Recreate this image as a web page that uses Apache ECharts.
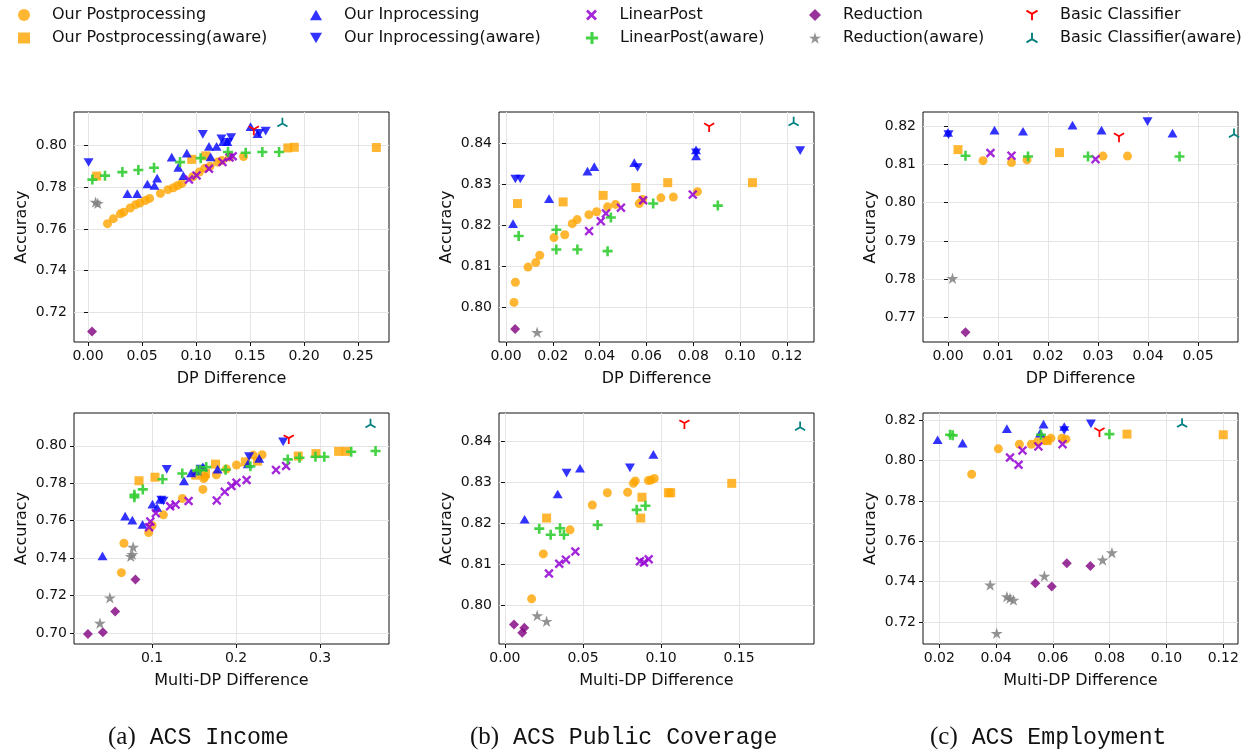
<!DOCTYPE html>
<html>
<head>
<meta charset="utf-8">
<script src="https://cdn.jsdelivr.net/npm/echarts@6/dist/echarts.min.js"></script>
<style>
html,body{margin:0;padding:0;background:#fff;}
#chart{width:1250px;height:755px;}
</style>
</head>
<body>
<div id="chart"></div>
<script>
// ---------- legend / series names ----------
const methodNames = ['Our Postprocessing','Our Postprocessing(aware)','Our Inprocessing','Our Inprocessing(aware)',
  'LinearPost','LinearPost(aware)','Reduction','Reduction(aware)','Basic Classifier','Basic Classifier(aware)'];

// ---------- (a) ACS Income, DP Difference ----------
const incDP_post = [[0.018,0.7625],[0.0235,0.7649],[0.030,0.7672],[0.033,0.768],[0.039,0.770],[0.044,0.7716],[0.048,0.7724],[0.053,0.7736],[0.057,0.7746],[0.067,0.777],[0.074,0.7788],[0.079,0.7797],[0.083,0.7808],[0.087,0.7818],[0.097,0.785],[0.103,0.7872],[0.108,0.789],[0.113,0.790],[0.120,0.792],[0.124,0.7928],[0.131,0.7944],[0.144,0.7947]];
const incDP_postAware = [[0.008,0.7853],[0.096,0.7933],[0.109,0.7950],[0.185,0.7988],[0.191,0.7991],[0.267,0.7990]];
const incDP_in = [[0.0365,0.7769],[0.0455,0.7769],[0.055,0.7815],[0.0615,0.7808],[0.064,0.7843],[0.0775,0.7944],[0.0836,0.7895],[0.0883,0.7855],[0.0915,0.7963],[0.112,0.7995],[0.1135,0.7945],[0.119,0.7995],[0.125,0.8018],[0.129,0.8018],[0.1505,0.8090],[0.157,0.8056]];
const incDP_inAware = [[0.0005,0.7918],[0.1063,0.8053],[0.1235,0.8032],[0.1325,0.8038],[0.130,0.8015],[0.1645,0.8068],[0.1585,0.8058]];
const incDP_lin = [[0.0935,0.7836],[0.1005,0.7856],[0.112,0.7888],[0.1245,0.792],[0.131,0.7942],[0.134,0.7948]];
const incDP_linAware = [[0.004,0.7836],[0.0157,0.7855],[0.0318,0.7872],[0.0466,0.7882],[0.0611,0.7893],[0.0852,0.7920],[0.1043,0.7939],[0.1296,0.7968],[0.146,0.7965],[0.1614,0.7968],[0.1769,0.7968]];
const incDP_red = [[0.0037,0.7108]];
const incDP_redAware = [[0.007,0.7728],[0.009,0.7722]];
const incDP_basic = [[0.1535,0.8072]];
const incDP_basicAware = [[0.180,0.8110]];

// ---------- (a) ACS Income, Multi-DP Difference ----------
const incMDP_post = [[0.0635,0.7322],[0.0665,0.7479],[0.096,0.7536],[0.100,0.7574],[0.1135,0.7631],[0.136,0.7718],[0.1605,0.7767],[0.1615,0.7825],[0.163,0.7835],[0.1765,0.7845],[0.1885,0.7876],[0.2005,0.7897],[0.2205,0.7950],[0.231,0.7952]];
const incMDP_postAware = [[0.0845,0.7813],[0.1035,0.7832],[0.152,0.7843],[0.1635,0.7852],[0.1755,0.7902],[0.211,0.7914],[0.2255,0.7918],[0.274,0.7945],[0.295,0.7958],[0.322,0.7970],[0.331,0.7970]];
const incMDP_in = [[0.041,0.7412],[0.068,0.7624],[0.0765,0.7603],[0.0887,0.758],[0.1005,0.7688],[0.106,0.767],[0.1095,0.7713],[0.138,0.7812],[0.1465,0.7855],[0.1535,0.7865],[0.1605,0.7888],[0.178,0.7875],[0.214,0.7903],[0.2275,0.7933]];
const incMDP_inAware = [[0.1175,0.7874],[0.111,0.771],[0.1135,0.7705],[0.158,0.7875],[0.2155,0.7942],[0.256,0.8021]];
const incMDP_lin = [[0.0965,0.7565],[0.098,0.7595],[0.1045,0.7640],[0.1215,0.7677],[0.128,0.7686],[0.1435,0.7705],[0.177,0.7708],[0.1865,0.7754],[0.1945,0.7785],[0.2005,0.7803],[0.2125,0.7817],[0.2475,0.7871],[0.2595,0.7892]];
const incMDP_linAware = [[0.079,0.7738],[0.079,0.7725],[0.089,0.7767],[0.1125,0.7821],[0.136,0.7852],[0.1535,0.7868],[0.157,0.787],[0.1645,0.7886],[0.1875,0.7872],[0.217,0.789],[0.2615,0.7927],[0.2755,0.7936],[0.2945,0.7941],[0.305,0.7941],[0.337,0.7968],[0.366,0.7972]];
const incMDP_red = [[0.0237,0.6995],[0.0415,0.7004],[0.0561,0.7114],[0.0802,0.7286]];
const incMDP_redAware = [[0.038,0.7052],[0.0498,0.7188],[0.0747,0.7409],[0.0775,0.7459],[0.0765,0.742]];
const incMDP_basic = [[0.2627,0.8035]];
const incMDP_basicAware = [[0.360,0.8119]];

// ---------- (b) ACS Public Coverage, DP Difference ----------
const pubDP_post = [[0.0034,0.8012],[0.004,0.8061],[0.0094,0.8098],[0.0127,0.8109],[0.0144,0.8127],[0.0205,0.8170],[0.0251,0.8177],[0.0283,0.8204],[0.0304,0.8214],[0.0354,0.8226],[0.0387,0.8233],[0.0434,0.8245],[0.0468,0.8251],[0.0569,0.8253],[0.0584,0.8263],[0.0662,0.8267],[0.0715,0.8269],[0.0818,0.8282]];
const pubDP_postAware = [[0.0049,0.8253],[0.0244,0.8257],[0.0415,0.8273],[0.0555,0.8292],[0.0691,0.8304],[0.1053,0.8304]];
const pubDP_in = [[0.003,0.8204],[0.0184,0.8265],[0.0348,0.8332],[0.0377,0.8343],[0.0548,0.8353],[0.0812,0.8384],[0.0812,0.8369]];
const pubDP_inAware = [[0.004,0.8313],[0.0061,0.8313],[0.0562,0.8341],[0.0812,0.8377],[0.1257,0.8382]];
const pubDP_lin = [[0.0355,0.8186],[0.0405,0.821],[0.0427,0.8229],[0.0491,0.8243],[0.0586,0.8261],[0.0798,0.8275]];
const pubDP_linAware = [[0.0054,0.8174],[0.0215,0.8189],[0.0215,0.8141],[0.0305,0.8141],[0.0434,0.8137],[0.0448,0.8219],[0.0629,0.8253],[0.0905,0.8248]];
const pubDP_red = [[0.0039,0.7947]];
const pubDP_redAware = [[0.0133,0.7939]];
const pubDP_basic = [[0.0868,0.8439]];
const pubDP_basicAware = [[0.1229,0.8453]];

// ---------- (b) ACS Public Coverage, Multi-DP Difference ----------
const pubMDP_post = [[0.0171,0.8015],[0.0246,0.8125],[0.0417,0.8184],[0.056,0.8245],[0.0656,0.8275],[0.0786,0.8276],[0.0823,0.8298],[0.0835,0.8304],[0.0919,0.8305],[0.0936,0.8306],[0.0957,0.8310]];
const pubMDP_postAware = [[0.0267,0.8213],[0.0878,0.8264],[0.087,0.8213],[0.1047,0.8275],[0.1062,0.8275],[0.1453,0.8298]];
const pubMDP_in = [[0.0126,0.821],[0.0338,0.8272],[0.0481,0.8335],[0.0951,0.8369]];
const pubMDP_inAware = [[0.0395,0.8323],[0.0801,0.8336]];
const pubMDP_lin = [[0.0282,0.8077],[0.0348,0.8101],[0.0391,0.8111],[0.0451,0.8131],[0.0865,0.8107],[0.0891,0.8104],[0.0921,0.8112]];
const pubMDP_linAware = [[0.022,0.8187],[0.0293,0.8172],[0.0353,0.8188],[0.0378,0.8172],[0.0594,0.8196],[0.0844,0.8233],[0.09,0.8243]];
const pubMDP_red = [[0.0058,0.7952],[0.0124,0.7944],[0.0111,0.7932]];
const pubMDP_redAware = [[0.0207,0.7974],[0.0267,0.796]];
const pubMDP_basic = [[0.115,0.8443]];
const pubMDP_basicAware = [[0.1891,0.8438]];

// ---------- (c) ACS Employment, DP Difference ----------
const empDP_post = [[0.007,0.811],[0.0127,0.8105],[0.0158,0.8112],[0.031,0.8122],[0.0359,0.8122]];
const empDP_postAware = [[0.002,0.8139],[0.0223,0.8131]];
const empDP_in = [[0.0,0.8184],[0.0093,0.819],[0.015,0.8187],[0.0249,0.8203],[0.0307,0.819],[0.0449,0.8182]];
const empDP_inAware = [[0.0001,0.8178],[0.0399,0.8212]];
const empDP_lin = [[0.0085,0.813],[0.0127,0.8123],[0.0295,0.8114]];
const empDP_linAware = [[0.0035,0.8123],[0.016,0.8121],[0.028,0.8121],[0.0463,0.8121]];
const empDP_red = [[0.0035,0.7661]];
const empDP_redAware = [[0.0009,0.7802]];
const empDP_basic = [[0.0342,0.8171]];
const empDP_basicAware = [[0.0572,0.8182]];

// ---------- (c) ACS Employment, Multi-DP Difference ----------
const empMDP_post = [[0.0314,0.7933],[0.0408,0.8059],[0.0482,0.8082],[0.0524,0.8082],[0.0546,0.8094],[0.0576,0.8101],[0.0593,0.8112],[0.0632,0.8112],[0.0646,0.8107]];
const empMDP_postAware = [[0.058,0.8100],[0.0861,0.8132],[0.12,0.8129]];
const empMDP_in = [[0.0194,0.8104],[0.0282,0.8087],[0.0438,0.8159],[0.0567,0.8182],[0.064,0.817],[0.0555,0.8137]];
const empMDP_inAware = [[0.0734,0.8183],[0.064,0.815]];
const empMDP_lin = [[0.0449,0.8016],[0.0479,0.798],[0.0493,0.8051],[0.0549,0.8071],[0.0634,0.8082]];
const empMDP_linAware = [[0.0238,0.8129],[0.0247,0.8126],[0.0558,0.8129],[0.0799,0.8132]];
const empMDP_red = [[0.0538,0.7392],[0.0596,0.7376],[0.0649,0.7491],[0.0732,0.7478]];
const empMDP_redAware = [[0.0379,0.7384],[0.0402,0.7144],[0.0438,0.7326],[0.0449,0.7318],[0.0461,0.7309],[0.057,0.7428],[0.0775,0.7508],[0.0808,0.7544]];
const empMDP_basic = [[0.0764,0.8142]];
const empMDP_basicAware = [[0.1055,0.8187]];

// ---------- tick values ----------
const incDP_xticks = [0, 0.05, 0.10, 0.15, 0.20, 0.25];
const incDP_yticks = [0.72, 0.74, 0.76, 0.78, 0.80];
const incMDP_xticks = [0.1, 0.2, 0.3];
const incMDP_yticks = [0.70, 0.72, 0.74, 0.76, 0.78, 0.80];
const pubDP_xticks = [0, 0.02, 0.04, 0.06, 0.08, 0.10, 0.12];
const pubDP_yticks = [0.80, 0.81, 0.82, 0.83, 0.84];
const pubMDP_xticks = [0, 0.05, 0.10, 0.15];
const pubMDP_yticks = [0.80, 0.81, 0.82, 0.83, 0.84];
const empDP_xticks = [0, 0.01, 0.02, 0.03, 0.04, 0.05];
const empDP_yticks = [0.77, 0.78, 0.79, 0.80, 0.81, 0.82];
const empMDP_xticks = [0.02, 0.04, 0.06, 0.08, 0.10, 0.12];
const empMDP_yticks = [0.72, 0.74, 0.76, 0.78, 0.80, 0.82];

const captionLetters = ['(a)', '(b)', '(c)'];
const captionNames = ['ACS Income', 'ACS Public Coverage', 'ACS Employment'];

// ---------- styles ----------
const SYM = [
  'circle',
  'rect',
  'path://M10,0 L20,17.32 L0,17.32 Z',
  'path://M0,0 L20,0 L10,17.32 Z',
  'path://M0,3.5 L3.5,0 L10,6.5 L16.5,0 L20,3.5 L13.5,10 L20,16.5 L16.5,20 L10,13.5 L3.5,20 L0,16.5 L6.5,10 Z',
  'path://M7.4,0 L12.6,0 L12.6,7.4 L20,7.4 L20,12.6 L12.6,12.6 L12.6,20 L7.4,20 L7.4,12.6 L0,12.6 L0,7.4 L7.4,7.4 Z',
  'path://M10,0 L20,10 L10,20 L0,10 Z',
  'path://M10,0 L12.245,6.91 L19.511,6.91 L13.633,11.18 L15.878,18.09 L10,13.82 L4.122,18.09 L6.367,11.18 L0.489,6.91 L7.755,6.91 Z',
  'path://M8.5,10 L11.5,10 L11.5,20 L8.5,20 Z M9.25,11.299 L0.59,6.299 L2.09,3.701 L10.75,8.701 Z M9.25,8.701 L17.91,3.701 L19.41,6.299 L10.75,11.299 Z',
  'path://M8.5,0 L11.5,0 L11.5,10 L8.5,10 Z M10.75,11.299 L2.09,16.299 L0.59,13.701 L9.25,8.701 Z M10.75,8.701 L19.41,13.701 L17.91,16.299 L9.25,11.299 Z'
];
const SIZE = [9, 9, 10, 10, 9.5, 10, 10, 12, 11, 11];
const LEGSIZE = [12, 11, 12, 12, 11, 12, 13, 13, 13, 13];
const COLORS = ['#FFA500','#FFA500','#0000FF','#0000FF','#9400D3','#32CD32','#800080','#808080','#FF0000','#008080'];
const OPAC = [0.8,0.8,0.8,0.8,0.85,0.9,0.8,0.85,1,1];

const FONT = 'DejaVu Sans';

const panels = [
  {grid:[74,112,315,230], x:[-0.013,0.2787], y:[0.7058,0.8160], xt:incDP_xticks, yt:incDP_yticks, xd:2, yd:2, xname:'DP Difference',
   data:[incDP_post,incDP_postAware,incDP_in,incDP_inAware,incDP_lin,incDP_linAware,incDP_red,incDP_redAware,incDP_basic,incDP_basicAware]},
  {grid:[499,112,315,230], x:[-0.003,0.1316], y:[0.79154,0.84763], xt:pubDP_xticks, yt:pubDP_yticks, xd:2, yd:2, xname:'DP Difference',
   data:[pubDP_post,pubDP_postAware,pubDP_in,pubDP_inAware,pubDP_lin,pubDP_linAware,pubDP_red,pubDP_redAware,pubDP_basic,pubDP_basicAware]},
  {grid:[923,112,315,230], x:[-0.005,0.058], y:[0.76353,0.82374], xt:empDP_xticks, yt:empDP_yticks, xd:2, yd:2, xname:'DP Difference',
   data:[empDP_post,empDP_postAware,empDP_in,empDP_inAware,empDP_lin,empDP_linAware,empDP_red,empDP_redAware,empDP_basic,empDP_basicAware]},
  {grid:[74,413,315,231], x:[0.0071,0.382], y:[0.6941,0.8175], xt:incMDP_xticks, yt:incMDP_yticks, xd:1, yd:2, xname:'Multi-DP Difference',
   data:[incMDP_post,incMDP_postAware,incMDP_in,incMDP_inAware,incMDP_lin,incMDP_linAware,incMDP_red,incMDP_redAware,incMDP_basic,incMDP_basicAware]},
  {grid:[499,413,315,231], x:[-0.0038,0.198], y:[0.79043,0.84704], xt:pubMDP_xticks, yt:pubMDP_yticks, xd:2, yd:2, xname:'Multi-DP Difference',
   data:[pubMDP_post,pubMDP_postAware,pubMDP_in,pubMDP_inAware,pubMDP_lin,pubMDP_linAware,pubMDP_red,pubMDP_redAware,pubMDP_basic,pubMDP_basicAware]},
  {grid:[923,413,315,231], x:[0.01425,0.1252], y:[0.7091,0.82368], xt:empMDP_xticks, yt:empMDP_yticks, xd:2, yd:2, xname:'Multi-DP Difference',
   data:[empMDP_post,empMDP_postAware,empMDP_in,empMDP_inAware,empMDP_lin,empMDP_linAware,empMDP_red,empMDP_redAware,empMDP_basic,empMDP_basicAware]}
];

const grids = [], xAxes = [], yAxes = [], series = [];
panels.forEach((p, i) => {
  grids.push({left:p.grid[0], top:p.grid[1], width:p.grid[2], height:p.grid[3],
    show:true, borderColor:'#111', borderWidth:1, backgroundColor:'transparent', containLabel:false});
  const common = (ticks, dec) => ({
    type:'value',
    axisLine:{show:false},
    axisTick:{show:true, inside:false, length:4, lineStyle:{color:'#111', width:1}, customValues:ticks},
    axisLabel:{show:true, margin:7, color:'#111', fontFamily:FONT, fontSize:14, customValues:ticks,
      formatter:(v)=>v.toFixed(dec)},
    splitLine:{show:true, lineStyle:{color:'#e4e4e4', width:1}}
  });
  xAxes.push(Object.assign(common(p.xt, p.xd), {gridIndex:i, min:p.x[0], max:p.x[1],
    name:p.xname, nameLocation:'middle', nameGap:29,
    nameTextStyle:{fontFamily:FONT, fontSize:16, color:'#111'}}));
  yAxes.push(Object.assign(common(p.yt, p.yd), {gridIndex:i, min:p.y[0], max:p.y[1],
    name:'Accuracy', nameLocation:'middle', nameGap:44,
    nameTextStyle:{fontFamily:FONT, fontSize:16, color:'#111'}}));
  p.data.forEach((d, k) => {
    series.push({
      type:'scatter', name:methodNames[k], xAxisIndex:i, yAxisIndex:i, data:d,
      symbol:SYM[k], symbolSize:SIZE[k], symbolKeepAspect:true,
      itemStyle:{color:COLORS[k], opacity:OPAC[k]},
      emphasis:{disabled:true}, z:2+k*0.01
    });
  });
});

// legends: 5 columns x 2 rows, one legend per entry (icon centres at these x / y)
const legIconX = [24, 316, 592, 815, 1032];
const legRowY = [15, 38];
const LEG_W = 12;
const legends = [];
methodNames.forEach((n, k) => {
  const col = Math.floor(k/2), row = k % 2;
  legends.push({
    data:[{name:n, icon:SYM[k], itemStyle:{color:COLORS[k], opacity:OPAC[k]}}],
    left:legIconX[col] - LEG_W/2, top:legRowY[row] - 9, padding:0,
    itemWidth:LEG_W, itemHeight:LEGSIZE[k], itemGap:0,
    symbolKeepAspect:true,
    selectedMode:false,
    textStyle:{fontFamily:FONT, fontSize:16, color:'#111', lineHeight:18, padding:[0,0,0,17]}
  });
});

const captionLeft = [108, 470, 930];
const graphics = captionLetters.map((c, i) => ({
  type:'text', left:captionLeft[i], top:725,
  style:{
    text:'{s|' + c + '}{m| ' + captionNames[i] + '}',
    rich:{
      s:{fontFamily:'Liberation Serif', fontSize:25, fill:'#111'},
      m:{fontFamily:'Liberation Mono', fontSize:23.2, fill:'#111'}
    }
  }
}));

const chart = echarts.init(document.getElementById('chart'), null, {renderer:'canvas'});
chart.setOption({
  animation:false,
  backgroundColor:'#fff',
  grid:grids, xAxis:xAxes, yAxis:yAxes, series:series,
  legend:legends, graphic:graphics
});
</script>
</body>
</html>
